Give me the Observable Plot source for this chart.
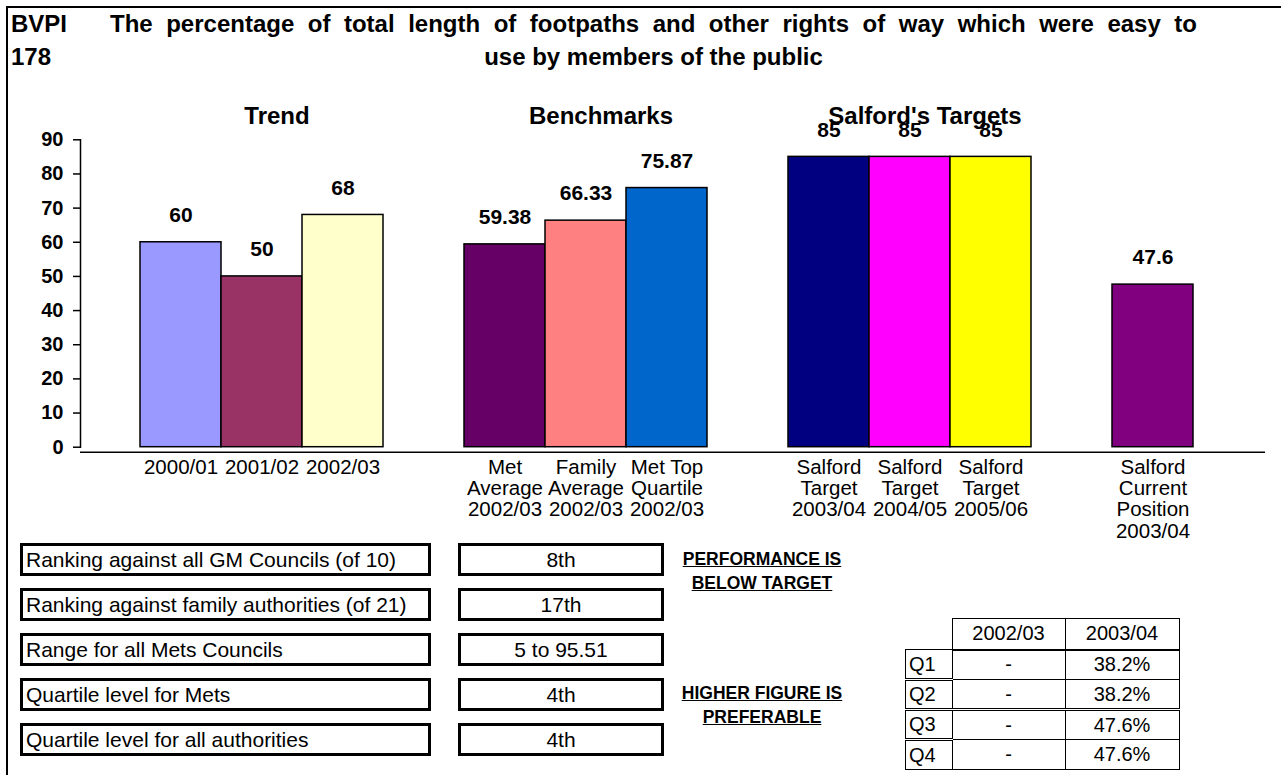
<!DOCTYPE html>
<html><head><meta charset="utf-8">
<script src="https://cdn.jsdelivr.net/npm/d3@7"></script>
<script src="https://cdn.jsdelivr.net/npm/@observablehq/plot@0.6"></script>
<style>
body{margin:0;background:#fff;font-family:"Liberation Sans",Arial,sans-serif;color:#000;}
#page{position:relative;width:1281px;height:775px;overflow:hidden;background:#fff;}
.abs{position:absolute;white-space:nowrap;}
#frame{left:6px;top:6px;width:1400px;height:900px;border-left:2px solid #000;border-top:2px solid #000;}
.t{font-weight:bold;font-size:24px;line-height:33px;}
#title{white-space:normal;text-align:justify;text-align-last:center;}
#title .l1{display:block;text-align:justify;text-align-last:justify;}
#title .l2{display:block;text-align:center;}
.box{position:absolute;box-sizing:border-box;border:3px solid #000;height:33px;font-size:21px;display:flex;align-items:center;white-space:nowrap;}
.note{position:absolute;font-weight:bold;font-size:17.5px;line-height:24px;text-decoration:underline;text-align:center;white-space:nowrap;}
#qt{position:absolute;left:905px;top:618px;border-collapse:collapse;font-size:20px;}
#qt td{border:1px solid #000;padding:0;text-align:center;}
#qt td.q{text-align:left;padding-left:3px;}
#chart{position:absolute;left:0;top:0;}
</style></head><body><div id="page">
<div id="frame" class="abs"></div>
<div id="chart"></div>
<div class="abs t" style="left:11px;top:7px;">BVPI<br>178</div>
<div class="abs t" id="title" style="left:110px;top:7px;width:1087px;"></div>
<div id="ranks"></div>
<div class="note" id="note1" style="left:662px;top:547px;width:200px;"></div>
<div class="note" id="note2" style="left:662px;top:681px;width:200px;"></div>
<table id="qt"></table>
</div>
<script>
// ---- data ----
const titleLines = ["The percentage of total length of footpaths and other rights of way which were easy to", "use by members of the public"];
const categories = ["2000/01","2001/02","2002/03","Met Average 2002/03","Family Average 2002/03","Met Top Quartile 2002/03","Salford Target 2003/04","Salford Target 2004/05","Salford Target 2005/06","Salford Current Position 2003/04"];
const tickLabels = ["2000/01","2001/02","2002/03","Met\nAverage\n2002/03","Family\nAverage\n2002/03","Met Top\nQuartile\n2002/03","Salford\nTarget\n2003/04","Salford\nTarget\n2004/05","Salford\nTarget\n2005/06","Salford\nCurrent\nPosition\n2003/04"];
const values = [60, 50, 68, 59.38, 66.33, 75.87, 85, 85, 85, 47.6];
const barColors = ["#9999FF","#993366","#FFFFCC","#660066","#FF8080","#0066CC","#000080","#FF00FF","#FFFF00","#800080"];
const groupOf = ["Trend","Trend","Trend","Benchmarks","Benchmarks","Benchmarks","Targets","Targets","Targets","Current"];
const groupTitles = ["Trend","Benchmarks","Salford's Targets"];
const groupTitleAt = ["2001/02","Family Average 2002/03","Salford Target 2004/05"];
const yTicks = [0,10,20,30,40,50,60,70,80,90];
const rankingLabels = ["Ranking against all GM Councils (of 10)","Ranking against family authorities (of 21)","Range for all Mets Councils","Quartile level for Mets","Quartile level for all authorities"];
const rankingValues = ["8th","17th","5 to 95.51","4th","4th"];
const noteTop = ["PERFORMANCE IS","BELOW TARGET"];
const noteBottom = ["HIGHER FIGURE IS","PREFERABLE"];
const quartileHeaders = ["2002/03","2003/04"];
const quartileRows = ["Q1","Q2","Q3","Q4"];
const quartile2002 = ["-","-","-","-"];
const quartile2003 = ["38.2%","38.2%","47.6%","47.6%"];

// ---- chart ----
const data = categories.map((c, i) => ({key: c, value: values[i], color: barColors[i], group: groupOf[i]}));
const domain = [];
data.forEach((d, i) => { if (i > 0 && d.group !== data[i-1].group) domain.push("gap" + i); domain.push(d.key); });
const labelOf = new Map(categories.map((c, i) => [c, tickLabels[i]]));
const titles = groupTitles.map((t, i) => ({label: t, key: groupTitleAt[i]}));

const plot = Plot.plot({
  width: 1281, height: 560,
  marginTop: 139.3, marginBottom: 113.3, marginLeft: 80, marginRight: 16,
  style: {background: "transparent", fontFamily: "'Liberation Sans', Arial, sans-serif", color: "black", overflow: "visible"},
  x: {type: "band", domain, range: [80, 1253], paddingInner: 0, paddingOuter: 0.74},
  y: {domain: [0, 90]},
  color: {type: "identity"},
  marks: [
    Plot.frame({anchor: "left", stroke: "black", strokeWidth: 1.5}),
    Plot.ruleY([0], {dy: 5, stroke: "black", strokeWidth: 1.5}),
    Plot.axisY({ticks: yTicks, tickSize: 7, tickPadding: 10, fontSize: 20, fontWeight: "bold", label: null, strokeWidth: 1.5}),
    Plot.axisX({tickSize: 0, tickPadding: 12, fontSize: 20.5, lineHeight: 1.03, tickFormat: k => labelOf.get(k) ?? "", label: null}),
    Plot.barY(data, {x: "key", y: "value", fill: d => d.color, stroke: "black", strokeWidth: 1.5}),
    Plot.text(data, {x: "key", y: "value", text: d => String(d.value), dy: -27, fontSize: 21, fontWeight: "bold"}),
    Plot.text(titles, {x: "key", text: "label", frameAnchor: "top", lineAnchor: "middle", dy: -23.5, dx: 15, fontSize: 24, fontWeight: "bold"})
  ]
});
document.getElementById("chart").appendChild(plot);

// ---- text & tables ----
document.getElementById("title").innerHTML = `<span class="l1">${titleLines[0]}</span><span class="l2">${titleLines[1]}</span>`;
const ranks = document.getElementById("ranks");
rankingLabels.forEach((lab, i) => {
  const top = 543 + i * 45;
  const a = document.createElement("div");
  a.className = "box"; a.style.left = "20px"; a.style.top = top + "px"; a.style.width = "411px"; a.style.paddingLeft = "3px";
  a.textContent = lab; ranks.appendChild(a);
  const b = document.createElement("div");
  b.className = "box"; b.style.left = "458px"; b.style.top = top + "px"; b.style.width = "206px"; b.style.justifyContent = "center";
  b.textContent = rankingValues[i]; ranks.appendChild(b);
});
document.getElementById("note1").innerHTML = noteTop.join("<br>");
document.getElementById("note2").innerHTML = noteBottom.join("<br>");
const qt = document.getElementById("qt");
let html = '<tr style="height:31px"><td style="border:none;width:46px"></td>' + quartileHeaders.map((h, i) => `<td style="width:${i ? 113 : 112}px;border-bottom:2px solid #000">${h}</td>`).join("") + "</tr>";
quartileRows.forEach((q, i) => {
  const dbl = i > 0 ? "border-top:3px double #000;" : "";
  html += `<tr style="height:30px"><td class="q" style="${dbl}">${q}</td><td style="${i === 2 ? dbl : ""}">${quartile2002[i]}</td><td style="${i === 2 ? dbl : ""}">${quartile2003[i]}</td></tr>`;
});
qt.innerHTML = html;
</script>
</body></html>
